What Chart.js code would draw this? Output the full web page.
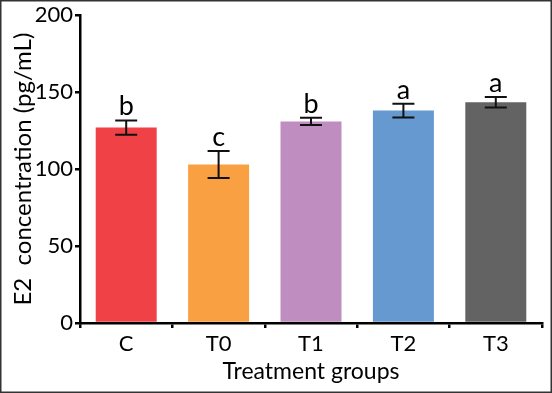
<!DOCTYPE html>
<html>
<head>
<meta charset="utf-8">
<script src="https://cdn.jsdelivr.net/npm/chart.js@4/dist/chart.umd.min.js"></script>
<style>
html,body{margin:0;padding:0;background:#fff;}
#wrap{width:552px;height:393px;position:relative;}
</style>
</head>
<body>
<div id="wrap"><canvas id="c" width="552" height="393"></canvas></div>
<script>
const categories = ["C", "T0", "T1", "T2", "T3"];
const means = [127, 103, 131, 138, 143.5];
const errors = [4.6, 8.8, 2.4, 4.5, 3.4];
const letters = ["b", "c", "b", "a", "a"];
const barColors = ["#EF4146", "#F9A043", "#C08DC0", "#6699D0", "#636363"];
const yTicks = [0, 50, 100, 150, 200];

const FONT = "Lato";

const extras = {
  id: 'extras',
  beforeDraw(chart) {
    const ctx = chart.ctx;
    ctx.save();
    ctx.fillStyle = '#fff';
    ctx.fillRect(0, 0, chart.width, chart.height);
    ctx.restore();
  },
  afterDatasetsDraw(chart) {
    const ctx = chart.ctx;
    const meta = chart.getDatasetMeta(0);
    const ys = chart.scales.y;
    ctx.save();
    ctx.strokeStyle = '#111';
    ctx.lineWidth = 2;
    meta.data.forEach((bar, i) => {
      const x = bar.x;
      const top = ys.getPixelForValue(means[i] + errors[i]);
      const bot = ys.getPixelForValue(means[i] - errors[i]);
      const cap = 11;
      ctx.beginPath();
      ctx.moveTo(x, top); ctx.lineTo(x, bot);
      ctx.moveTo(x - cap, top); ctx.lineTo(x + cap, top);
      ctx.moveTo(x - cap, bot); ctx.lineTo(x + cap, bot);
      ctx.stroke();
      ctx.fillStyle = '#000';
      ctx.font = '27px ' + FONT;
      ctx.textAlign = 'center';
      ctx.textBaseline = 'alphabetic';
      ctx.fillText(letters[i], x, top - 5);
    });
    ctx.restore();
  },
  afterDraw(chart) {
    const ctx = chart.ctx;
    ctx.save();
    ctx.strokeStyle = '#333';
    ctx.lineWidth = 1.5;
    ctx.strokeRect(0.75, 0.75, chart.width - 1.5, chart.height - 1.5);
    ctx.restore();
  }
};

new Chart(document.getElementById('c'), {
  type: 'bar',
  data: {
    labels: categories,
    datasets: [{
      data: means,
      backgroundColor: barColors,
      borderWidth: 0,
      categoryPercentage: 1,
      barPercentage: 0.66
    }]
  },
  options: {
    responsive: false,
    animation: false,
    devicePixelRatio: 1,
    layout: { padding: { left: 0, right: 10, top: 15, bottom: 0 } },
    plugins: { legend: { display: false }, tooltip: { enabled: false } },
    scales: {
      x: {
        afterFit(axis) { axis.height = 70; },
        grid: { display: true, drawOnChartArea: false, drawTicks: true, tickLength: 5, color: '#000', lineWidth: 2.5 },
        border: { display: true, color: '#000', width: 2.5 },
        ticks: { color: '#000', font: { family: FONT, size: 22 }, padding: 3 },
        title: { display: true, text: 'Treatment groups', color: '#000', font: { family: FONT, size: 23 }, padding: { top: 0, bottom: 8 } }
      },
      y: {
        min: 0, max: 200,
        afterFit(axis) { axis.width = 80; },
        afterBuildTicks(axis) { axis.ticks = yTicks.map(v => ({ value: v })); },
        grid: { display: true, drawOnChartArea: false, drawTicks: true, tickLength: 5, color: '#000', lineWidth: 2.5 },
        border: { display: true, color: '#000', width: 2.5 },
        ticks: { color: '#000', font: { family: FONT, size: 22 }, padding: 2 },
        title: { display: true, text: 'E2  concentration (pg/mL)', color: '#000', font: { family: FONT, size: 24 }, padding: { top: 9, bottom: 0 } }
      }
    }
  },
  plugins: [extras]
});
</script>
</body>
</html>
